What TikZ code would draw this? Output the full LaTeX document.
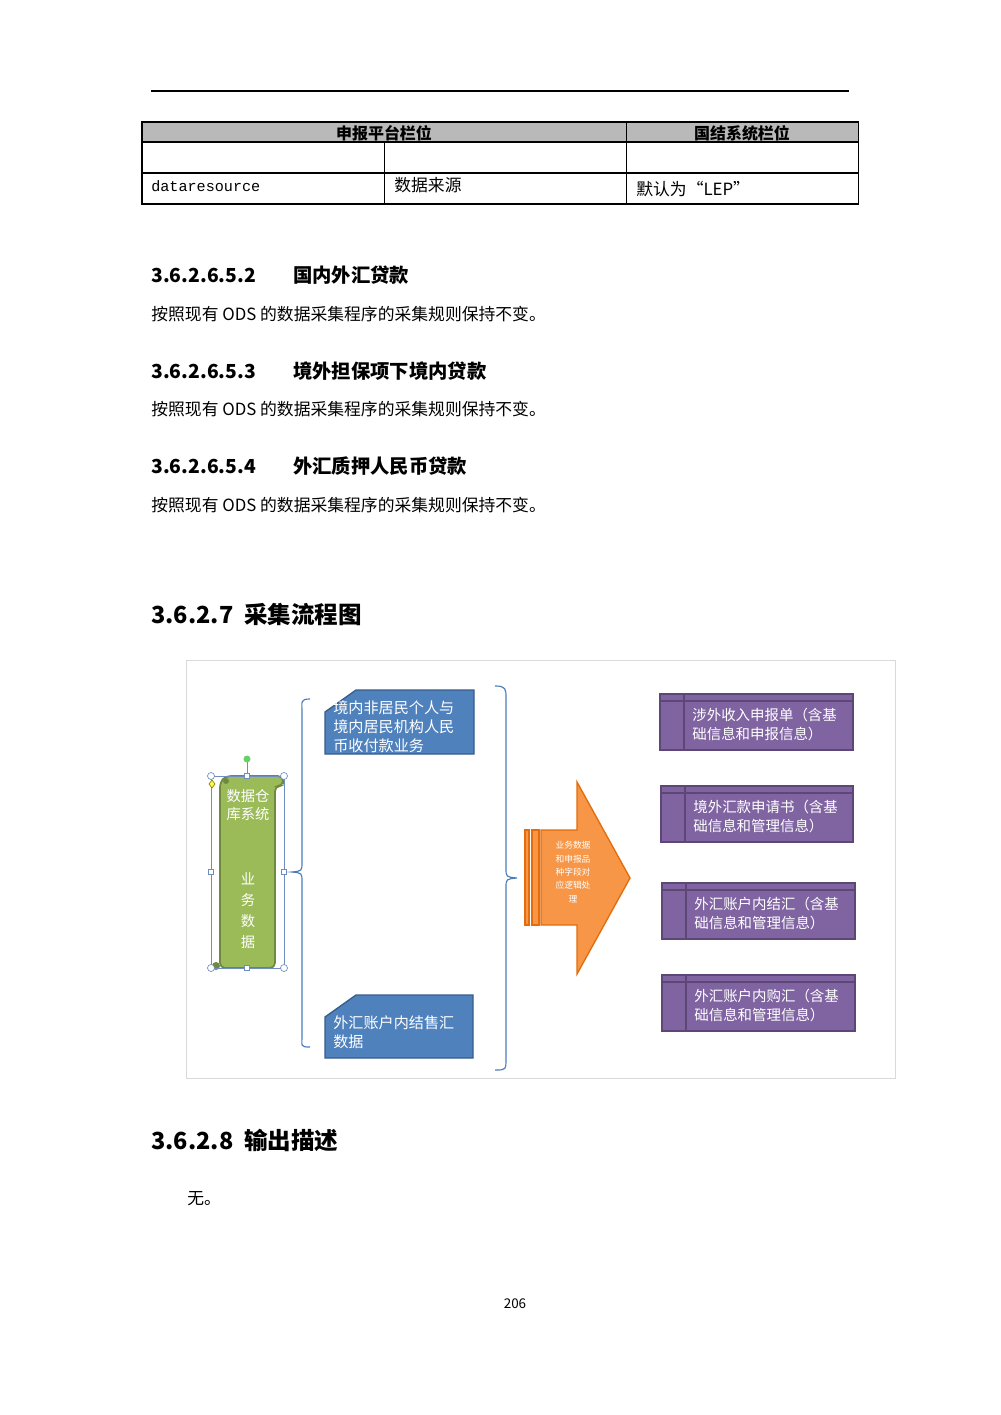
\documentclass[tikz,border=0pt]{standalone}
\usepackage{fontspec}
\setmainfont{Liberation Serif}
\newfontfamily\cjk{Noto Sans CJK SC}
\newfontfamily\mono{Liberation Mono}
\definecolor{gfill}{HTML}{9BBB59}\definecolor{gline}{HTML}{71893F}
\definecolor{bfill}{HTML}{4F81BD}\definecolor{bline}{HTML}{385D8A}
\definecolor{pfill}{HTML}{8064A2}\definecolor{pline}{HTML}{5C4776}
\definecolor{ofill}{HTML}{F79646}\definecolor{oline}{HTML}{E46C0A}
\definecolor{brc}{HTML}{4A7EBB}\definecolor{hnd}{HTML}{6D8EBF}
\begin{document}
\begin{tikzpicture}[x=0.595pt,y=-0.595pt,
  txt/.style={anchor=west,inner sep=0,font=\cjk\fontsize{10}{12}\selectfont},
  head/.style={anchor=west,inner sep=0,font=\cjk\bfseries\fontsize{11.5}{13}\selectfont},
  bigh/.style={anchor=west,inner sep=0,font=\cjk\bfseries\fontsize{14}{16}\selectfont},
  blue/.style={fill=bfill,draw=bline,line width=0.8pt},
  purp/.style={fill=pfill,draw=pline,line width=1pt},
  wt/.style={text=white,align=left,inner sep=0,anchor=north west,font=\cjk\fontsize{8.5}{11}\selectfont}]
\useasboundingbox[fill=white] (0,0) rectangle (1000,1415);
\draw[line width=0.8pt] (151,91) -- (849,91);
% table
\fill[gray!55] (142,122) rectangle (858,142);
\draw[line width=0.6pt] (142,122) rectangle (858,204) (142,142) -- (858,142) (142,173) -- (858,173)
  (626,122) -- (626,204) (384,142) -- (384,204);
\node[font=\cjk\bfseries\fontsize{9.5}{11}\selectfont,inner sep=0] (h1) at (384,133) {申报平台栏位};
\node[font=\cjk\bfseries\fontsize{9.5}{11}\selectfont,inner sep=0] (h2) at (742,133) {国结系统栏位};
\node[anchor=west,inner sep=0,font=\mono\fontsize{9}{11}\selectfont] (c1) at (151,186) {dataresource};
\node[txt] (c2) at (394,185) {数据来源};
\node[txt] (c3) at (636,189) {默认为“LEP”};
% headings
\node[head] (s1) at (151,275) {3.6.2.6.5.2};\node[head] (t1) at (293,275) {国内外汇贷款};
\node[txt] (b1) at (151,314) {按照现有 ODS 的数据采集程序的采集规则保持不变。};
\node[head] (s2) at (151,371) {3.6.2.6.5.3};\node[head] (t2) at (293,371) {境外担保项下境内贷款};
\node[txt] (b2) at (151,409) {按照现有 ODS 的数据采集程序的采集规则保持不变。};
\node[head] (s3) at (151,466) {3.6.2.6.5.4};\node[head] (t3) at (293,466) {外汇质押人民币贷款};
\node[txt] (b3) at (151,505) {按照现有 ODS 的数据采集程序的采集规则保持不变。};
\node[bigh] (s4) at (151,614) {3.6.2.7\ \ 采集流程图};
% figure frame
\draw[gray!30] (186,660) rectangle (895,1078);
% green scroll
\draw[fill=gfill,draw=gline,line width=1pt,rounded corners=3pt]
  (220,782) -- (220,968) -- (275,968) -- (275,786) -- (283,786) -- (283,776) -- (226,776) -- cycle;
\fill[gline] (216,966) circle (4);\fill[gline] (226,781) circle (3);
\draw[hnd,line width=0.5pt] (211,776) rectangle (284,968) (247,776) -- (247,759);
\fill[green!70!black!60] (247,759) circle (3.5);
\foreach \p in {(211,776),(284,776),(211,968),(284,968)} \draw[fill=white,draw=hnd] \p circle (3.5);
\foreach \p in {(247,776),(211,872),(284,872),(247,968)} \draw[fill=white,draw=hnd] \p ++(-2.5,-2.5) rectangle ++(5,5);
\draw[fill=yellow!70,draw=olive] (212,780) -- (215,784) -- (212,788) -- (209,784) -- cycle;
\node[wt,anchor=north,align=center] (g1) at (248,789) {数据仓\\库系统};
\node[wt,anchor=north,align=center,font=\cjk\fontsize{8.5}{12.5}\selectfont] (g2) at (248,872) {业\\务\\数\\据};
% braces
\draw[brc,line width=0.7pt] (310,699) .. controls (300,699) and (302,702) .. (302,712) -- (302,862) .. controls (302,871) .. (292,872)
  .. controls (302,873) .. (302,882) -- (302,1035) .. controls (302,1046) and (300,1047) .. (310,1047);
\draw[brc,line width=0.7pt] (495,686) .. controls (506,686) and (506,689) .. (506,698) -- (506,868) .. controls (506,877) .. (517,878)
  .. controls (506,879) .. (506,888) -- (506,1058) .. controls (506,1070) and (506,1070) .. (495,1070);
% blue boxes
\draw[blue] (325,754) -- (325,712) -- (356,690) -- (474,690) -- (474,754) -- cycle;
\node[wt,font=\cjk\fontsize{9}{11.3}\selectfont] (bx1) at (333,700) {境内非居民个人与\\境内居民机构人民\\币收付款业务};
\draw[blue] (325,1058) -- (325,1017) -- (356,995) -- (473,995) -- (473,1058) -- cycle;
\node[wt,font=\cjk\fontsize{9}{11.3}\selectfont] (bx2) at (333,1015) {外汇账户内结售汇\\数据};
% orange arrow
\begin{scope}[line width=0.8pt]
\filldraw[fill=ofill,draw=oline] (525,830) rectangle (529,925);
\filldraw[fill=ofill,draw=oline] (532,830) rectangle (539,925);
\filldraw[fill=ofill,draw=oline] (541,830) -- (577,830) -- (577,782) -- (630,878) -- (577,974) -- (577,925) -- (541,925) -- cycle;
\end{scope}
\node[wt,anchor=center,align=center,font=\cjk\fontsize{5.2}{8}\selectfont] (ar) at (573,872) {业务数据\\和申报品\\种字段对\\应逻辑处\\理};
% purple boxes
\foreach \x/\y/\w/\t [count=\i] in {660/694/193/{涉外收入申报单（含基\\础信息和申报信息）},661/786/192/{境外汇款申请书（含基\\础信息和管理信息）},662/883/193/{外汇账户内结汇（含基\\础信息和管理信息）},662/975/193/{外汇账户内购汇（含基\\础信息和管理信息）}}{
  \draw[purp] (\x,\y) rectangle ++(\w,56);
  \draw[pline,line width=0.8pt] (\x,\y+7) -- ++(\w,0) (\x+24,\y) -- ++(0,56);
  \node[wt,font=\cjk\fontsize{8.6}{11.3}\selectfont] (p\i) at (\x+32,\y+14) {\t};
}
\node[bigh] (s5) at (151,1140) {3.6.2.8\ \ 输出描述};
\node[txt] (w) at (187,1199) {无。};
\node[inner sep=0,font=\cjk\fontsize{8}{10}\selectfont] (pg) at (515,1304) {206};
\end{tikzpicture}
\end{document}
